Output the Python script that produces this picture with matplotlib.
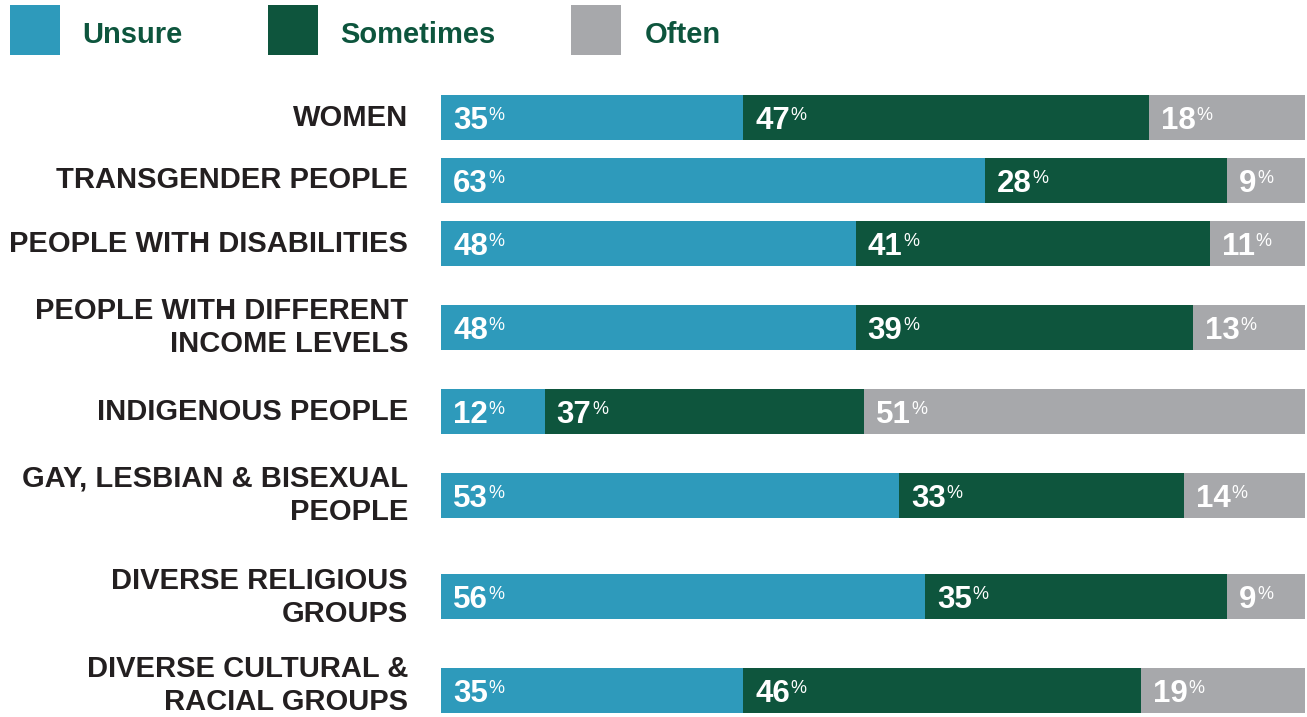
import matplotlib.pyplot as plt
from matplotlib.patches import Rectangle

plt.rcParams['font.family'] = ['Liberation Sans', 'DejaVu Sans']

# Survey data (% of respondents)
groups = ['WOMEN', 'TRANSGENDER PEOPLE', 'PEOPLE WITH DISABILITIES',
          'PEOPLE WITH DIFFERENT\nINCOME LEVELS', 'INDIGENOUS PEOPLE',
          'GAY, LESBIAN & BISEXUAL\nPEOPLE', 'DIVERSE RELIGIOUS\nGROUPS',
          'DIVERSE CULTURAL &\nRACIAL GROUPS']
unsure = [35, 63, 48, 48, 12, 53, 56, 35]
sometimes = [47, 28, 41, 39, 37, 33, 35, 46]
often = [18, 9, 11, 13, 51, 14, 9, 19]
series_names = ['Unsure', 'Sometimes', 'Often']

# Layout (pixels, from top of 1307x717 canvas)
W, H = 1307, 717
row_y = [117.5, 180.5, 243.5, 327.5, 411.5, 495.5, 596.5, 690.5]
label_dy = [0, 0, 0, 0, 0, 0, 1, -5]   # last label sits a bit higher
bar_h = 45
colors = ['#2E9ABB', '#0E553D', '#A7A8AB']
legend_green = '#0D553D'
label_color = '#231F20'

fig = plt.figure(figsize=(W / 100, H / 100), dpi=100)
ax_left, ax_right = 441, 1305
ax = fig.add_axes([ax_left / W, 0, (ax_right - ax_left) / W, 1])
ax.set_xlim(0, 100)
ax.set_ylim(H, 0)
ax.axis('off')

def px_to_x(px):
    return (px - ax_left) / (ax_right - ax_left) * 100

series = [unsure, sometimes, often]
left = [0] * len(groups)
for vals, col in zip(series, colors):
    ax.barh(row_y, vals, left=left, height=bar_h, color=col, linewidth=0)
    left = [l + v for l, v in zip(left, vals)]

# Category labels
for y, dy, g in zip(row_y, label_dy, groups):
    ax.text(px_to_x(408), y + dy, g, ha='right', va='center', fontsize=21,
            fontweight='bold', color=label_color, linespacing=1.24,
            clip_on=False)

# Value labels: big bold number + small percent sign
fig.canvas.draw()
renderer = fig.canvas.get_renderer()
inv = ax.transData.inverted()
left = [0] * len(groups)
for vals in series:
    for i, v in enumerate(vals):
        x0 = left[i] + 12 / 8.64
        t = ax.text(x0, row_y[i] + 11.5, str(v), ha='left', va='baseline',
                    fontsize=22.5, fontweight='bold', color='white')
        bb = t.get_window_extent(renderer)
        xr = inv.transform((bb.x1, bb.y0))[0]
        ax.text(xr + 0.5 / 8.64, row_y[i] + 2.5, '%', ha='left',
                va='baseline', fontsize=13, color='white')
    left = [l + v for l, v in zip(left, vals)]

# Legend
sq_x = [10, 268, 571]
txt_x = [82, 340, 645]
for name, col, sx, tx in zip(series_names, colors, sq_x, txt_x):
    fig.add_artist(Rectangle((sx / W, 1 - 55 / H), 50 / W, 50 / H,
                             transform=fig.transFigure, color=col, lw=0))
    fig.text(tx / W, 1 - 35 / H, name, ha='left', va='center', fontsize=21,
             fontweight='bold', color=legend_green)

fig.savefig('out.png', dpi=100)
